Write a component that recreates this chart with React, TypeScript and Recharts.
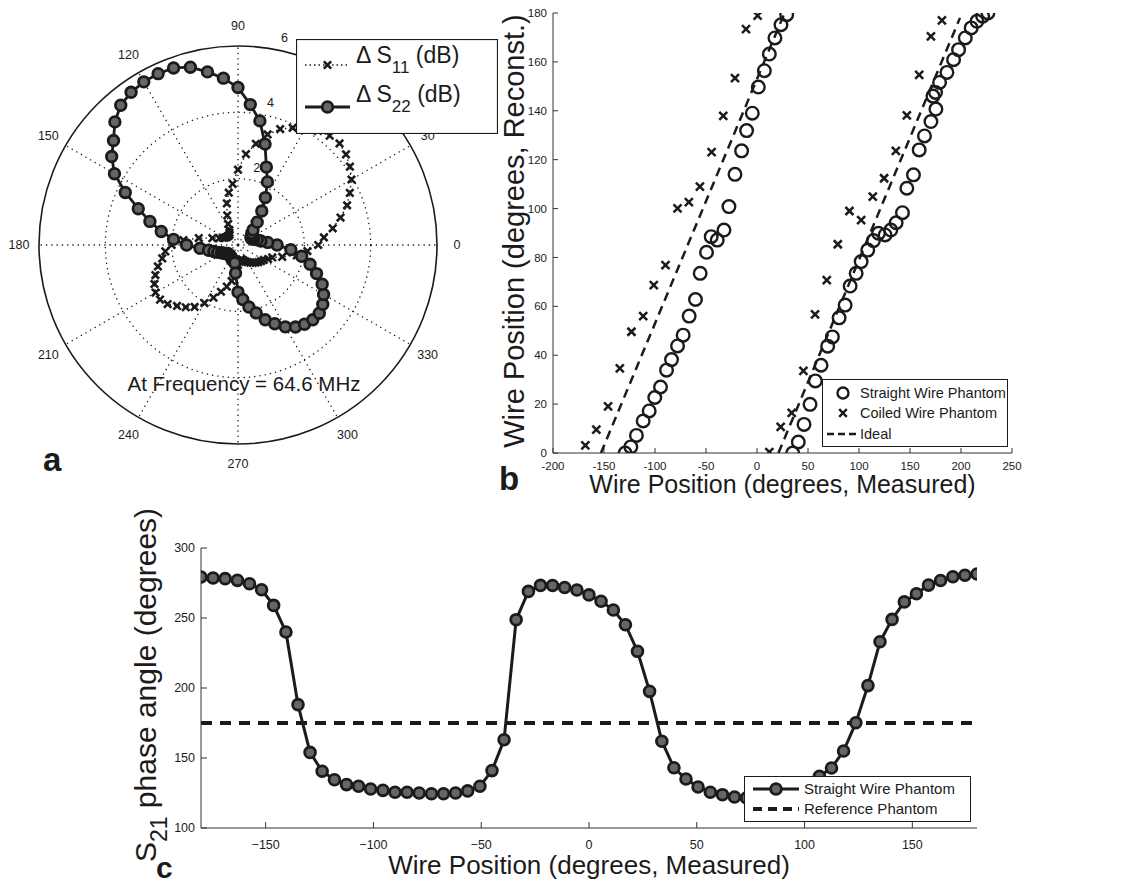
import React from 'react';
import {
  RadarChart, Radar, PolarGrid, PolarAngleAxis, PolarRadiusAxis,
  ScatterChart, Scatter, XAxis, YAxis, ComposedChart, Line, ReferenceLine, Legend,
} from 'recharts';

const FONT = '"Liberation Sans", Arial, Helvetica, sans-serif';
const INK = '#1b1b1b';
const AX = '#333333';
const MARK_FILL = '#666666';

// ---------------- panel a : polar plot ----------------
const POLAR_ANGLE = [
  0, 5, 10, 15, 20, 25, 30, 35, 40, 45, 50, 55, 60, 65, 70, 75, 80, 85,
  90, 95, 100, 105, 110, 115, 120, 125, 130, 135, 140, 145, 150, 155, 160, 165, 170, 175,
  180, 185, 190, 195, 200, 205, 210, 215, 220, 225, 230, 235, 240, 245, 250, 255, 260, 265,
  270, 275, 280, 285, 290, 295, 300, 305, 310, 315, 320, 325, 330, 335, 340, 345, 350, 355,
];
const DELTA_S11_DB = [
  2.42, 2.6, 2.9, 3.2, 3.5, 3.72, 3.95, 4.12, 4.25, 4.33,
  4.3, 4.2, 4.05, 3.9, 3.72, 3.45, 3.1, 2.75, 2.27, 1.85,
  1.6, 1.3, 0.95, 0.7, 0.52, 0.45, 0.4, 0.4, 0.4, 0.42,
  0.45, 0.5, 0.6, 0.8, 1.2, 1.65, 2.0, 2.2, 2.32, 2.5,
  2.65, 2.78, 2.87, 2.87, 2.77, 2.6, 2.45, 2.28, 2.02, 1.75,
  1.5, 1.3, 1.1, 0.8, 0.6, 0.5, 0.45, 0.45, 0.5, 0.55,
  0.6, 0.65, 0.7, 0.75, 0.8, 0.85, 0.9, 1.0, 1.1, 1.38,
  1.8, 2.1,
];
const DELTA_S22_DB = [
  1.18, 0.9, 0.7, 0.6, 0.5, 0.45, 0.45, 0.5, 0.55, 0.64,
  0.9, 1.25, 1.65, 2.1, 2.5, 3.15, 3.8, 4.25, 4.75, 5.05,
  5.3, 5.55, 5.68, 5.7, 5.68, 5.62, 5.5, 5.25, 4.9, 4.65,
  4.3, 3.75, 3.2, 2.75, 2.35, 1.95, 1.55, 1.15, 0.9, 0.75,
  0.65, 0.55, 0.5, 0.45, 0.4, 0.4, 0.4, 0.4, 0.42, 0.45,
  0.48, 0.5, 0.55, 0.85, 1.42, 1.65, 1.9, 2.12, 2.4, 2.62,
  2.85, 3.02, 3.12, 3.19, 3.2, 3.12, 2.98, 2.8, 2.52, 2.25,
  1.95, 1.6,
];
const ANGLE_TICKS = [0, 30, 60, 90, 120, 150, 180, 210, 240, 270, 300, 330];
const RADIUS_TICKS = [0, 2, 4, 6];
const R_MAX = 6;
const OUTER_R = 199;

// ---------------- panel b ----------------
const STRAIGHT_LEFT_X = [-129.3, -123.7, -118.2, -111.6, -105.7, -100.2, -94.6, -88.7, -83.8, -77.9, -72.4, -66.5, -60.3, -55.7, -49.5, -44.9, -39, -32.4, -27.5, -21.6, -15.1, -10.2, -4.6, 1.3, 7.2, 12.1, 17.6, 23.5, 29.1];
const STRAIGHT_LEFT_Y = [0, 2.5, 7.2, 13.1, 17.2, 22.7, 27, 33.9, 38.2, 43.8, 48.2, 56, 62.8, 73.5, 82.1, 88.5, 87.1, 91.2, 100.8, 114, 123.6, 131.9, 139, 149.7, 156.4, 163.2, 169.8, 175.2, 179.3];
const STRAIGHT_RIGHT_X = [35, 40.5, 46.1, 52, 57.2, 62.8, 69.3, 73.9, 80.5, 86.4, 91.3, 97.2, 102.1, 108.6, 114.2, 119.1, 125.6, 131.2, 136.4, 142.6, 146.9, 153.4, 159, 164.2, 170.5, 175.4, 172.5, 175, 179, 186.2, 192.7, 197.6, 204.2, 210, 215.6, 221.2, 226.4];
const STRAIGHT_RIGHT_Y = [0, 4.5, 11.7, 19.9, 29.5, 35.9, 43.7, 47.5, 55.3, 60.5, 68.3, 73.5, 78.3, 83, 86.9, 89.9, 89.2, 91.2, 94.2, 98.3, 108.3, 113.8, 124, 129.7, 135.6, 140.7, 146, 147.5, 151.6, 155.7, 160.9, 165, 169.8, 173.9, 176.6, 178.7, 180];
const COILED_LEFT_X = [-168.3, -157.5, -146, -134.5, -123.1, -111.6, -101.2, -89.7, -77.9, -66.8, -56, -44.5, -33.1, -21.6, -10.8, 0.6];
const COILED_LEFT_Y = [3.1, 9.6, 19.1, 34.6, 49.6, 56, 68.7, 76.9, 100.1, 102.6, 109, 123.1, 137.9, 153.4, 173.4, 178.9];
const COILED_RIGHT_X = [12.1, 23.2, 34, 45.5, 56.9, 68.4, 79.2, 90.6, 102.1, 113.5, 124.6, 136.1, 146.9, 159, 170.5, 181.3];
const COILED_RIGHT_Y = [0.4, 10.7, 16.4, 33.6, 56.7, 70.7, 85.4, 99, 95.3, 104.9, 112.4, 123.6, 138.1, 154.7, 170.4, 177];
const IDEAL_LEFT_X = [-153, 27];
const IDEAL_LEFT_Y = [0, 180];
const IDEAL_RIGHT_X = [21, 199];
const IDEAL_RIGHT_Y = [0, 178];
const B_X_TICKS = [-200, -150, -100, -50, 0, 50, 100, 150, 200, 250];
const B_Y_TICKS = [0, 20, 40, 60, 80, 100, 120, 140, 160, 180];

// ---------------- panel c ----------------
const C_WIRE_POSITION = [-180, -174.4, -168.8, -163.1, -157.5, -151.9, -146.3, -140.6, -135, -129.4, -123.8, -118.1, -112.5, -106.9, -101.3, -95.6, -90, -84.4, -78.8, -73.1, -67.5, -61.9, -56.3, -50.6, -45, -39.4, -33.8, -28.1, -22.5, -16.9, -11.3, -5.6, 0, 5.6, 11.3, 16.9, 22.5, 28.1, 33.8, 39.4, 45, 50.6, 56.3, 61.9, 67.5, 73.1, 78.8, 84.4, 90, 95.6, 101.3, 106.9, 112.5, 118.1, 123.8, 129.4, 135, 140.6, 146.3, 151.9, 157.5, 163.1, 168.8, 174.4, 180];
const C_STRAIGHT_PHASE = [279.3, 278.6, 278.1, 276.9, 274.5, 270.2, 259, 240, 188.1, 154, 140.5, 134.5, 131, 129.8, 127.9, 126.9, 125.5, 125.5, 125, 124.5, 124.5, 125, 126.5, 129.8, 141, 163, 248.8, 269, 273.3, 273.2, 271.8, 270, 266.5, 262, 255.7, 245.2, 226.2, 197.6, 162, 143, 135, 129.3, 125.5, 123.8, 122.1, 121.5, 121.5, 122.5, 124.5, 127.5, 131.5, 136.9, 142.9, 155, 175.2, 201.7, 233, 249, 261.5, 267.3, 273.5, 276.8, 279.5, 280.5, 281.4];
const C_REFERENCE_PHASE = 175;
const C_X_TICKS = [-150, -100, -50, 0, 50, 100, 150];
const C_Y_TICKS = [100, 150, 200, 250, 300];

// ---------------- derived tables ----------------
const polarData = POLAR_ANGLE.map((angle, i) => ({ angle, s11: DELTA_S11_DB[i], s22: DELTA_S22_DB[i] }));
const toXY = (xs: number[], ys: number[]) => xs.map((x, i) => ({ x, y: ys[i] }));
const straightLeft = toXY(STRAIGHT_LEFT_X, STRAIGHT_LEFT_Y);
const straightRight = toXY(STRAIGHT_RIGHT_X, STRAIGHT_RIGHT_Y);
const coiledLeft = toXY(COILED_LEFT_X, COILED_LEFT_Y);
const coiledRight = toXY(COILED_RIGHT_X, COILED_RIGHT_Y);
const idealLeft = toXY(IDEAL_LEFT_X, IDEAL_LEFT_Y);
const idealRight = toXY(IDEAL_RIGHT_X, IDEAL_RIGHT_Y);
const phaseData = C_WIRE_POSITION.map((x, i) => ({ x, phase: C_STRAIGHT_PHASE[i] }));

const ringPx = (v: number) => (v / R_MAX) * OUTER_R;

function xPath(cx: number, cy: number, s: number) {
  return `M${cx - s},${cy - s}L${cx + s},${cy + s}M${cx - s},${cy + s}L${cx + s},${cy - s}`;
}

function AngleTick(props: any) {
  const { x, y, payload } = props;
  if (payload == null || payload.value >= 360) return null;
  return (
    <text x={x} y={y} textAnchor="middle" dominantBaseline="central" fontSize={12.5} fontFamily={FONT} fill={INK}>
      {payload.value}
    </text>
  );
}

function RadiusTick(props: any) {
  const { x, y, payload } = props;
  if (payload == null || !payload.value) return null;
  return (
    <text x={x + 5} y={y - 8.5} textAnchor="middle" fontSize={12.5} fontFamily={FONT} fill={INK}>
      {payload.value}
    </text>
  );
}

const s11Dot = (p: any) => (
  <path key={`s11-${p.index}`} d={xPath(p.cx, p.cy, 3.7)} stroke={INK} strokeWidth={2.6} fill="none" />
);
const s22Dot = (p: any) => (
  <circle key={`s22-${p.index}`} cx={p.cx} cy={p.cy} r={5.3} fill={MARK_FILL} stroke={INK} strokeWidth={2.8} />
);

function PolarLegend() {
  return (
    <svg width={202} height={95} style={{ display: 'block' }}>
      <rect x={0.5} y={0.5} width={201} height={94} fill="#fff" stroke={INK} strokeWidth={1.2} />
      <line x1={9} x2={54} y1={26} y2={26} stroke={INK} strokeWidth={1.4} strokeDasharray="1.5 3" />
      <path d={xPath(31.5, 26, 3.7)} stroke={INK} strokeWidth={2.6} />
      <text x={60} y={24} fontSize={23} fontFamily={FONT} fill={INK}>
        <tspan>Δ S</tspan>
        <tspan dy={10} fontSize={17}>11</tspan>
        <tspan dy={-10}> (dB)</tspan>
      </text>
      <line x1={9} x2={54} y1={68} y2={68} stroke={INK} strokeWidth={2.8} />
      <circle cx={31.5} cy={68} r={5.3} fill={MARK_FILL} stroke={INK} strokeWidth={2.8} />
      <text x={60} y={63} fontSize={23} fontFamily={FONT} fill={INK}>
        <tspan>Δ S</tspan>
        <tspan dy={10} fontSize={17}>22</tspan>
        <tspan dy={-10}> (dB)</tspan>
      </text>
    </svg>
  );
}

function LegendB() {
  return (
    <svg width={186} height={68} style={{ display: 'block' }}>
      <rect x={0.5} y={0.5} width={185} height={67} fill="#fff" stroke={INK} strokeWidth={1} />
      <circle cx={21} cy={14} r={5.5} fill="none" stroke={INK} strokeWidth={2.4} />
      <text x={38} y={19} fontSize={14.5} fontFamily={FONT} fill={INK}>Straight Wire Phantom</text>
      <path d={xPath(21, 34, 3.8)} stroke={INK} strokeWidth={2.4} />
      <text x={38} y={39} fontSize={14.5} fontFamily={FONT} fill={INK}>Coiled Wire Phantom</text>
      <line x1={5} x2={36} y1={55} y2={55} stroke={INK} strokeWidth={2.5} strokeDasharray="7 4" />
      <text x={38} y={60} fontSize={14.5} fontFamily={FONT} fill={INK}>Ideal</text>
    </svg>
  );
}

function LegendC() {
  return (
    <svg width={227} height={46} style={{ display: 'block' }}>
      <rect x={0.5} y={0.5} width={226} height={45} fill="#fff" stroke={INK} strokeWidth={1} />
      <line x1={9} x2={55} y1={13} y2={13} stroke={INK} strokeWidth={3} />
      <circle cx={32} cy={13} r={5.4} fill={MARK_FILL} stroke={INK} strokeWidth={2.8} />
      <text x={60} y={18} fontSize={15} fontFamily={FONT} fill={INK}>Straight Wire Phantom</text>
      <line x1={9} x2={55} y1={33} y2={33} stroke={INK} strokeWidth={4} strokeDasharray="9 6" />
      <text x={60} y={38} fontSize={15} fontFamily={FONT} fill={INK}>Reference Phantom</text>
    </svg>
  );
}

function XTitle(props: any) {
  const vb = props.viewBox || { x: 0, y: 0, width: 0, height: 0 };
  return (
    <text x={vb.x + vb.width / 2} y={vb.y + props.dy} textAnchor="middle" fontSize={props.size} fontFamily={FONT} fill={INK}>
      {props.text}
    </text>
  );
}

function YTitleB(props: any) {
  const vb = props.viewBox || { x: 0, y: 0, width: 0, height: 0 };
  const x = vb.x + 24;
  const y = vb.y + vb.height / 2 - 2;
  return (
    <text x={x} y={y} transform={`rotate(-90 ${x} ${y})`} textAnchor="middle" fontSize={29} fontFamily={FONT} fill={INK}>
      Wire Position (degrees, Reconst.)
    </text>
  );
}

function YTitleC(props: any) {
  const vb = props.viewBox || { x: 0, y: 0, width: 0, height: 0 };
  const x = vb.x + 156;
  const y = vb.y + vb.height / 2 - 3;
  return (
    <text x={x} y={y} transform={`rotate(-90 ${x} ${y})`} textAnchor="middle" fontSize={30} fontFamily={FONT} fill={INK}>
      <tspan>S</tspan>
      <tspan dy={11} fontSize={23}>21</tspan>
      <tspan dy={-11}> phase angle (degrees)</tspan>
    </text>
  );
}

const tickStyle = (size: number) => ({ fontSize: size, fill: INK, fontFamily: FONT });
const minusFmt = (v: number) => (v < 0 ? `\u2212${-v}` : `${v}`);

export default function App() {
  return (
    <div style={{ position: 'absolute', left: 0, top: 0, width: 1132, height: 886, background: '#fff', overflow: 'hidden' }}>
      {/* panel a */}
      <div style={{ position: 'absolute', left: 0, top: 0 }}>
        <RadarChart
          width={480}
          height={490}
          cx={238}
          cy={245}
          innerRadius={0}
          outerRadius={OUTER_R}
          startAngle={0}
          endAngle={360}
          data={polarData}
          margin={{ top: 0, right: 0, bottom: 0, left: 0 }}
        >
          <PolarGrid
            gridType="circle"
            polarAngles={ANGLE_TICKS}
            polarRadius={[ringPx(2), ringPx(4)]}
            stroke={INK}
            strokeWidth={1.3}
            strokeDasharray="1.3 4"
          />
          <PolarGrid gridType="circle" radialLines={false} polarAngles={[]} polarRadius={[ringPx(6)]} stroke={INK} strokeWidth={1.6} />
          <PolarAngleAxis
            dataKey="angle"
            type="number"
            domain={[0, 360]}
            ticks={ANGLE_TICKS}
            tickCount={13}
            axisLine={false}
            tickLine={false}
            tickSize={20}
            tick={<AngleTick />}
          />
          <PolarRadiusAxis
            type="number"
            domain={[0, R_MAX]}
            ticks={RADIUS_TICKS}
            tickCount={4}
            angle={78}
            axisLine={false}
            tickLine={false}
            tick={<RadiusTick />}
          />
          <Radar dataKey="s11" name="ΔS11 (dB)" stroke={INK} strokeWidth={1.4} strokeDasharray="1.5 3" fill="none" fillOpacity={0} dot={s11Dot} isAnimationActive={false} />
          <Radar dataKey="s22" name="ΔS22 (dB)" stroke={INK} strokeWidth={2.8} fill="none" fillOpacity={0} dot={s22Dot} isAnimationActive={false} />
          <Legend
            layout="vertical"
            align="center"
            verticalAlign="middle"
            wrapperStyle={{ left: 296, top: 39, width: 202, height: 95 }}
            content={() => <PolarLegend />}
          />
        </RadarChart>
      </div>

      {/* panel b */}
      <div style={{ position: 'absolute', left: 480, top: 0 }}>
        <ScatterChart width={560} height={500} margin={{ top: 13, right: 28, bottom: 0, left: 20 }}>
          <XAxis
            dataKey="x"
            type="number"
            domain={[-200, 250]}
            ticks={B_X_TICKS}
            height={47}
            tickSize={-5}
            tickMargin={14}
            tick={tickStyle(11.5)}
            axisLine={{ stroke: AX }}
            tickLine={{ stroke: AX }}
            allowDataOverflow
            label={<XTitle text="Wire Position (degrees, Measured)" dy={40} size={25} />}
          />
          <YAxis
            dataKey="y"
            type="number"
            domain={[0, 180]}
            ticks={B_Y_TICKS}
            width={53}
            tickSize={-5}
            tickMargin={11}
            tick={tickStyle(11.5)}
            axisLine={{ stroke: AX }}
            tickLine={{ stroke: AX }}
            allowDataOverflow
            label={<YTitleB />}
          />
          <XAxis xAxisId="top" orientation="top" type="number" dataKey="x" domain={[-200, 250]} ticks={B_X_TICKS} height={0} tick={false} tickSize={-5} axisLine={{ stroke: AX }} tickLine={{ stroke: AX }} allowDataOverflow />
          <YAxis yAxisId="right" orientation="right" type="number" dataKey="y" domain={[0, 180]} ticks={B_Y_TICKS} width={0} tick={false} tickSize={-5} axisLine={{ stroke: AX }} tickLine={{ stroke: AX }} allowDataOverflow />
          <Scatter name="Ideal" data={idealLeft} fill={INK} line={{ stroke: INK, strokeWidth: 2.5, strokeDasharray: '9 6' }} shape={() => <g />} isAnimationActive={false} />
          <Scatter name="Ideal" data={idealRight} fill={INK} line={{ stroke: INK, strokeWidth: 2.5, strokeDasharray: '9 6' }} shape={() => <g />} isAnimationActive={false} />
          <Scatter name="Straight Wire Phantom" data={straightLeft} fill="none" shape={(p: any) => <circle cx={p.cx} cy={p.cy} r={6.3} fill="none" stroke={INK} strokeWidth={2.4} />} isAnimationActive={false} />
          <Scatter name="Straight Wire Phantom" data={straightRight} fill="none" shape={(p: any) => <circle cx={p.cx} cy={p.cy} r={6.3} fill="none" stroke={INK} strokeWidth={2.4} />} isAnimationActive={false} />
          <Scatter name="Coiled Wire Phantom" data={coiledLeft} fill={INK} shape={(p: any) => <path d={xPath(p.cx, p.cy, 4)} stroke={INK} strokeWidth={2.5} fill="none" />} isAnimationActive={false} />
          <Scatter name="Coiled Wire Phantom" data={coiledRight} fill={INK} shape={(p: any) => <path d={xPath(p.cx, p.cy, 4)} stroke={INK} strokeWidth={2.5} fill="none" />} isAnimationActive={false} />
          <Legend
            layout="vertical"
            align="center"
            verticalAlign="middle"
            wrapperStyle={{ left: 342, top: 379, width: 186, height: 68 }}
            content={() => <LegendB />}
          />
        </ScatterChart>
      </div>

      {/* panel c */}
      <div style={{ position: 'absolute', left: 0, top: 490 }}>
        <ComposedChart width={1000} height={396} data={phaseData} margin={{ top: 58, right: 23, bottom: 0, left: 0 }}>
          <XAxis
            dataKey="x"
            type="number"
            domain={[-180, 180]}
            ticks={C_X_TICKS}
            height={58}
            tickSize={-6}
            tickMargin={18}
            tickFormatter={minusFmt}
            tick={tickStyle(12.5)}
            axisLine={{ stroke: AX }}
            tickLine={{ stroke: AX }}
            allowDataOverflow
            label={<XTitle text="Wire Position (degrees, Measured)" dy={46} size={26} />}
          />
          <YAxis
            type="number"
            domain={[100, 300]}
            ticks={C_Y_TICKS}
            width={201}
            tickSize={-6}
            tickMargin={12}
            tick={tickStyle(12.5)}
            axisLine={{ stroke: AX }}
            tickLine={{ stroke: AX }}
            allowDataOverflow
            label={<YTitleC />}
          />
          <XAxis xAxisId="top" orientation="top" type="number" dataKey="x" domain={[-180, 180]} ticks={C_X_TICKS} height={0} tick={false} tickSize={-6} axisLine={{ stroke: AX }} tickLine={{ stroke: AX }} allowDataOverflow />
          <YAxis yAxisId="right" orientation="right" type="number" domain={[100, 300]} ticks={C_Y_TICKS} width={0} tick={false} tickSize={-6} axisLine={{ stroke: AX }} tickLine={{ stroke: AX }} allowDataOverflow />
          <ReferenceLine y={C_REFERENCE_PHASE} stroke={INK} strokeWidth={4} strokeDasharray="11 8" />
          <Line
            dataKey="phase"
            name="Straight Wire Phantom"
            type="linear"
            stroke={INK}
            strokeWidth={3}
            dot={(p: any) => <circle key={`c-${p.index}`} cx={p.cx} cy={p.cy} r={5.4} fill={MARK_FILL} stroke={INK} strokeWidth={2.8} />}
            activeDot={false}
            isAnimationActive={false}
          />
          <Legend
            layout="vertical"
            align="center"
            verticalAlign="middle"
            wrapperStyle={{ left: 744, top: 286, width: 227, height: 46 }}
            content={() => <LegendC />}
          />
        </ComposedChart>
      </div>

      {/* annotations and panel letters */}
      <svg width={1132} height={886} style={{ position: 'absolute', left: 0, top: 0, pointerEvents: 'none' }}>
        <text x={244} y={391} textAnchor="middle" fontSize={20.5} fontFamily={FONT} fill={INK}>At Frequency = 64.6 MHz</text>
        <text x={43} y={471} fontSize={33} fontWeight="bold" fontFamily={FONT} fill={INK}>a</text>
        <text x={499} y={490} fontSize={33} fontWeight="bold" fontFamily={FONT} fill={INK}>b</text>
        <text x={156} y={878} fontSize={30} fontWeight="bold" fontFamily={FONT} fill={INK}>c</text>
      </svg>
    </div>
  );
}
